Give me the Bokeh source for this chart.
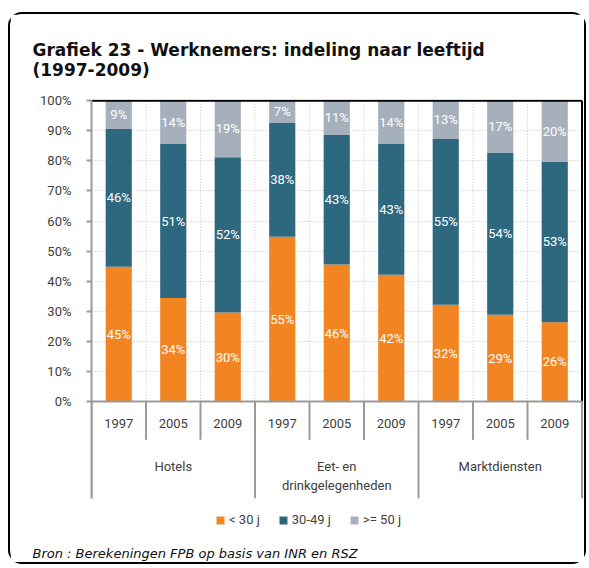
from bokeh.plotting import figure
from bokeh.models import (ColumnDataSource, FixedTicker, Legend, LegendItem,
                          NumeralTickFormatter, Title, Range1d, LabelSet)
from bokeh.core.properties import value
from bokeh.embed import file_html
from bokeh.resources import INLINE

# ---- data ----
groups = ["Hotels", "Eet- en\ndrinkgelegenheden", "Marktdiensten"]
years = ["1997", "2005", "2009"]
young = [44.8, 34.4, 29.6, 54.8, 45.6, 42.2, 32.2, 28.9, 26.4]   # < 30 j
middle = [45.8, 51.2, 51.6, 37.8, 43.0, 43.4, 55.1, 53.7, 53.4]  # 30-49 j
old = [9.4, 14.4, 18.8, 7.4, 11.4, 14.4, 12.7, 17.4, 20.2]       # >= 50 j
series_names = ["< 30 j", "30-49 j", ">= 50 j"]
colors = ["#F28522", "#2E687F", "#A6B0BD"]

n = len(young)
ny = len(years)
xs = [i + 0.5 for i in range(n)]
year_labels = [y for g in groups for y in years]
gx = [ny * i + ny / 2 for i in range(len(groups))]

# layout constants (pixels)
PX = 299.0          # pixels for 100 %
YEAR_LAB = 22       # year label centre below axis
YEAR_SEP = 38       # year separator length
GROUP_LAB = 57      # group label top below axis
GROUP_SEP = 96      # group separator length
BOTTOM = 141        # frame bottom below axis

def pct(v):
    return "%d%%" % int(v + 0.5)

src = ColumnDataSource(dict(
    x=xs,
    young=[v / 100 for v in young],
    middle=[v / 100 for v in middle],
    old=[v / 100 for v in old],
    y_young=[v / 200 for v in young],
    y_middle=[(a + b / 2) / 100 for a, b in zip(young, middle)],
    y_old=[(a + b + c / 2) / 100 for a, b, c in zip(young, middle, old)],
    l_young=[pct(v) for v in young],
    l_middle=[pct(v) for v in middle],
    l_old=[pct(v) for v in old],
))

FONT = "Roboto"
GREY_TXT = "#404040"
AX = "#9a9a9a"
GRID = "#c4c4c4"

p = figure(width=574, height=548, output_backend="svg", toolbar_location=None,
           x_axis_location=None,
           x_range=Range1d(0, n + 1.5 / 54.2), y_range=Range1d(-BOTTOM / PX, 1 + 1.2 / PX),
           min_border_left=81, min_border_right=5, min_border_top=85, min_border_bottom=23)
p.styles = {"border": "2px solid #000", "border-radius": "14px", "box-sizing": "content-box",
            "margin-left": "8px", "margin-top": "12px"}
p.outline_line_color = None

# title
p.title.text = "Grafiek 23 - Werknemers: indeling naar leeftijd\n(1997-2009)"
p.title.text_font = "DejaVu Sans"
p.title.text_font_size = "17px"
p.title.text_font_style = "bold"
p.title.text_color = "#111111"
p.title.align = "left"
p.title.offset = -59
p.title.standoff = 39

# grid
p.ygrid.ticker = FixedTicker(ticks=[i / 10 for i in range(1, 10)])
p.ygrid.grid_line_color = GRID
p.ygrid.grid_line_dash = "1 2"
p.xgrid.visible = False
vg = list(range(1, n))
p.segment(x0=vg, y0=[0] * len(vg), x1=vg, y1=[1] * len(vg),
          line_color=GRID, line_dash="1 2", line_width=1)

renderers = p.vbar_stack(["young", "middle", "old"], x="x", width=0.48, color=colors,
                         source=src, line_color=None)

for col in ["y_young", "y_middle", "y_old"]:
    lab = col.replace("y_", "l_")
    p.add_layout(LabelSet(x="x", y=col, text=lab, source=src, text_align="center",
                          text_baseline="middle", text_color="white",
                          text_font=value(FONT), text_font_size="13px"))

# frame lines: top and right black
p.segment(x0=[0, n], y0=[1, 0], x1=[n, n], y1=[1, 1], line_color="black", line_width=2)

# category axis (bottom line, separators)
seps_x = list(range(n + 1))
seps_len = [GROUP_SEP if i % ny == 0 else YEAR_SEP for i in seps_x]
p.segment(x0=seps_x, y0=[0] * len(seps_x), x1=seps_x, y1=[-l / PX for l in seps_len],
          line_color=AX, line_width=2)
p.segment(x0=[0], y0=[0], x1=[n], y1=[0], line_color=AX, line_width=2)

p.text(x=xs, y=[-YEAR_LAB / PX] * n, text=year_labels, text_align="center",
       text_baseline="middle", text_font=value(FONT), text_font_size="13px",
       text_color=GREY_TXT)
p.text(x=gx, y=[-GROUP_LAB / PX] * len(groups), text=groups, text_align="center",
       text_baseline="top", text_font=value(FONT), text_font_size="13px",
       text_color=GREY_TXT, text_line_height=1.25)

# y axis
yax = p.yaxis[0]
yax.ticker = FixedTicker(ticks=[i / 10 for i in range(11)])
yax.formatter = NumeralTickFormatter(format="0%")
yax.bounds = (-GROUP_SEP / PX, 1)
yax.axis_line_color = AX
yax.axis_line_width = 2
yax.major_tick_line_color = AX
yax.major_tick_line_width = 2
yax.major_tick_out = 5
yax.major_tick_in = 0
yax.minor_tick_line_color = None
yax.major_label_text_font = FONT
yax.major_label_text_font_size = "13px"
yax.major_label_text_color = GREY_TXT
yax.major_label_standoff = 15

legend = Legend(items=[LegendItem(label=nm, renderers=[r]) for nm, r in zip(series_names, renderers)],
                orientation="horizontal", location=(124, 16), border_line_color=None,
                background_fill_alpha=0, glyph_width=10, glyph_height=10,
                label_text_font=FONT, label_text_font_size="13px", label_text_color=GREY_TXT,
                spacing=18, label_standoff=4, padding=4, margin=0)
p.add_layout(legend)

src_title = Title(text="Bron : Berekeningen FPB op basis van INR en RSZ", align="left",
                  text_font="DejaVu Sans", text_font_style="italic", text_font_size="13px",
                  text_color="#111111", offset=-59, standoff=1)
p.add_layout(src_title, "below")

open("out.html", "w").write(file_html(p, INLINE))
